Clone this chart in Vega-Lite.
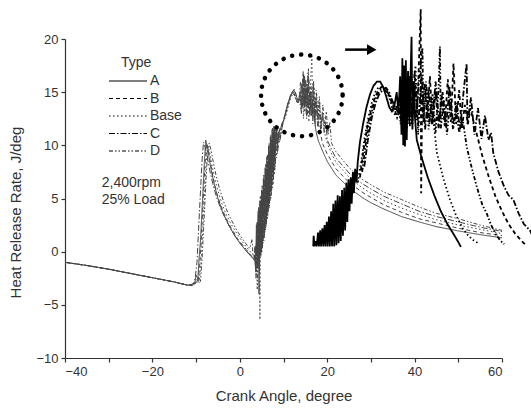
{
  "$schema": "https://vega.github.io/schema/vega-lite/v6.json",
  "autosize": {"type": "none"},
  "width": 437,
  "height": 319,
  "padding": {"left": 65, "top": 39, "right": 29, "bottom": 55},
  "background": "white",
  "config": {
    "view": {"stroke": null},
    "font": "Liberation Sans",
    "axis": {
      "domainColor": "#333", "tickColor": "#333", "labelColor": "#333", "titleColor": "#333",
      "labelFont": "Liberation Sans", "titleFont": "Liberation Sans",
      "labelFontSize": 13, "titleFontSize": 15, "titleFontWeight": "normal",
      "tickSize": 4, "grid": false, "domainWidth": 1.2, "tickWidth": 1.2
    },
    "legend": {"labelFont": "Liberation Sans", "titleFont": "Liberation Sans"}
  },
  "datasets": {
    "main": [
      {"Type":"A","x":-40,"y":-1.0},{"Type":"A","x":-35,"y":-1.3},{"Type":"A","x":-30,"y":-1.65},{"Type":"A","x":-25,"y":-2.05},{"Type":"A","x":-20,"y":-2.45},{"Type":"A","x":-15,"y":-2.85},{"Type":"A","x":-12,"y":-3.15},
      {"Type":"A","x":-11,"y":-3.1},{"Type":"A","x":-10.3,"y":-2.9},{"Type":"A","x":-10,"y":-2.2},{"Type":"A","x":-9.6,"y":-2.6},{"Type":"A","x":-9.3,"y":-0.5},{"Type":"A","x":-9,"y":1.0},{"Type":"A","x":-8.7,"y":3.5},{"Type":"A","x":-8.4,"y":6.0},{"Type":"A","x":-8.1,"y":8.5},{"Type":"A","x":-7.8,"y":10.5},{"Type":"A","x":-7.5,"y":10.0},{"Type":"A","x":-7.1,"y":9.0},{"Type":"A","x":-6.6,"y":7.8},{"Type":"A","x":-6,"y":6.6},{"Type":"A","x":-5,"y":5.0},{"Type":"A","x":-4,"y":3.8},{"Type":"A","x":-3,"y":2.9},{"Type":"A","x":-2,"y":2.1},{"Type":"A","x":-1,"y":1.4},{"Type":"A","x":0,"y":0.8},{"Type":"A","x":1,"y":0.3},{"Type":"A","x":2,"y":-0.2},{"Type":"A","x":3,"y":-0.6},{"Type":"A","x":3.4,"y":-0.8},
      {"Type":"A","x":3.6,"y":-1.5},{"Type":"A","x":3.8,"y":2.5},{"Type":"A","x":4.0,"y":-1.5},{"Type":"A","x":4.2,"y":3.8},{"Type":"A","x":4.4,"y":-4.0},{"Type":"A","x":4.6,"y":4.8},{"Type":"A","x":4.8,"y":-0.3},{"Type":"A","x":5.0,"y":5.8},{"Type":"A","x":5.2,"y":0.6},{"Type":"A","x":5.4,"y":6.9},{"Type":"A","x":5.6,"y":1.6},{"Type":"A","x":5.8,"y":7.9},{"Type":"A","x":6.0,"y":2.6},{"Type":"A","x":6.2,"y":8.9},{"Type":"A","x":6.4,"y":3.7},{"Type":"A","x":6.6,"y":9.9},{"Type":"A","x":6.8,"y":4.7},{"Type":"A","x":7.0,"y":10.8},{"Type":"A","x":7.2,"y":5.7},{"Type":"A","x":7.4,"y":11.5},{"Type":"A","x":7.6,"y":7.0},{"Type":"A","x":7.8,"y":11.8},{"Type":"A","x":8.0,"y":8.5},{"Type":"A","x":8.3,"y":11.5},{"Type":"A","x":8.6,"y":10.0},{"Type":"A","x":9.0,"y":11.3},{"Type":"A","x":9.5,"y":11.8},{"Type":"A","x":10,"y":12.3},{"Type":"A","x":10.5,"y":13.0},{"Type":"A","x":11,"y":13.8},{"Type":"A","x":11.5,"y":14.5},{"Type":"A","x":12,"y":15.0},{"Type":"A","x":12.4,"y":15.2},{"Type":"A","x":12.8,"y":14.8},{"Type":"A","x":13.3,"y":14.2},{"Type":"A","x":13.8,"y":14.4},{"Type":"A","x":14.2,"y":15.8},{"Type":"A","x":14.5,"y":13.8},{"Type":"A","x":14.8,"y":16.5},{"Type":"A","x":15.1,"y":14.0},{"Type":"A","x":15.4,"y":15.6},{"Type":"A","x":15.7,"y":13.5},{"Type":"A","x":16,"y":15.0},{"Type":"A","x":16.3,"y":12.8},{"Type":"A","x":16.6,"y":14.0},{"Type":"A","x":17,"y":12.5},{"Type":"A","x":17.5,"y":11.2},{"Type":"A","x":18,"y":10.4},{"Type":"A","x":19,"y":9.4},{"Type":"A","x":20,"y":8.5},{"Type":"A","x":22,"y":7.2},{"Type":"A","x":25,"y":6.0},{"Type":"A","x":28,"y":5.1},{"Type":"A","x":30,"y":4.6},{"Type":"A","x":33,"y":4.0},{"Type":"A","x":37,"y":3.3},{"Type":"A","x":41,"y":2.8},{"Type":"A","x":45,"y":2.35},{"Type":"A","x":50,"y":1.95},{"Type":"A","x":55,"y":1.6},{"Type":"A","x":60,"y":1.3},

      {"Type":"B","x":-40,"y":-1.0},{"Type":"B","x":-35,"y":-1.3},{"Type":"B","x":-30,"y":-1.65},{"Type":"B","x":-25,"y":-2.05},{"Type":"B","x":-20,"y":-2.45},{"Type":"B","x":-15,"y":-2.85},{"Type":"B","x":-12,"y":-3.15},
      {"Type":"B","x":-10.8,"y":-3.2},{"Type":"B","x":-10,"y":-2.8},{"Type":"B","x":-9.6,"y":-3.0},{"Type":"B","x":-9.2,"y":-1.5},{"Type":"B","x":-8.9,"y":0.5},{"Type":"B","x":-8.6,"y":3.0},{"Type":"B","x":-8.3,"y":5.5},{"Type":"B","x":-8.0,"y":8.0},{"Type":"B","x":-7.6,"y":10.2},{"Type":"B","x":-7.2,"y":9.6},{"Type":"B","x":-6.8,"y":8.6},{"Type":"B","x":-6.2,"y":7.2},{"Type":"B","x":-5.5,"y":5.8},{"Type":"B","x":-4.5,"y":4.5},{"Type":"B","x":-3.5,"y":3.5},{"Type":"B","x":-2.5,"y":2.6},{"Type":"B","x":-1.5,"y":1.9},{"Type":"B","x":-0.5,"y":1.2},{"Type":"B","x":0.5,"y":0.7},{"Type":"B","x":1.5,"y":0.2},{"Type":"B","x":2.5,"y":-0.3},{"Type":"B","x":3.2,"y":-0.7},
      {"Type":"B","x":3.5,"y":0.5},{"Type":"B","x":3.7,"y":-2.0},{"Type":"B","x":3.9,"y":2.8},{"Type":"B","x":4.1,"y":-1.0},{"Type":"B","x":4.3,"y":4.2},{"Type":"B","x":4.5,"y":-0.5},{"Type":"B","x":4.7,"y":5.2},{"Type":"B","x":4.9,"y":0.2},{"Type":"B","x":5.1,"y":6.2},{"Type":"B","x":5.3,"y":1.1},{"Type":"B","x":5.5,"y":7.2},{"Type":"B","x":5.7,"y":2.1},{"Type":"B","x":5.9,"y":8.2},{"Type":"B","x":6.1,"y":3.2},{"Type":"B","x":6.3,"y":9.2},{"Type":"B","x":6.5,"y":4.2},{"Type":"B","x":6.7,"y":10.2},{"Type":"B","x":6.9,"y":5.2},{"Type":"B","x":7.1,"y":11.0},{"Type":"B","x":7.3,"y":6.3},{"Type":"B","x":7.5,"y":11.6},{"Type":"B","x":7.7,"y":7.5},{"Type":"B","x":7.9,"y":11.8},{"Type":"B","x":8.2,"y":9.0},{"Type":"B","x":8.5,"y":11.6},{"Type":"B","x":8.8,"y":10.5},{"Type":"B","x":9.2,"y":11.6},{"Type":"B","x":9.6,"y":12.0},{"Type":"B","x":10,"y":12.4},{"Type":"B","x":10.5,"y":13.1},{"Type":"B","x":11,"y":13.9},{"Type":"B","x":11.5,"y":14.6},{"Type":"B","x":12,"y":15.0},{"Type":"B","x":12.5,"y":15.3},{"Type":"B","x":13,"y":14.6},{"Type":"B","x":13.5,"y":14.0},{"Type":"B","x":14,"y":14.8},{"Type":"B","x":14.3,"y":13.5},{"Type":"B","x":14.6,"y":16.8},{"Type":"B","x":14.9,"y":13.2},{"Type":"B","x":15.2,"y":15.8},{"Type":"B","x":15.5,"y":12.8},{"Type":"B","x":15.8,"y":16.2},{"Type":"B","x":16.1,"y":13.5},{"Type":"B","x":16.4,"y":15.0},{"Type":"B","x":16.7,"y":12.5},{"Type":"B","x":17.0,"y":14.5},{"Type":"B","x":17.3,"y":12.8},{"Type":"B","x":17.6,"y":13.8},{"Type":"B","x":18.0,"y":12.0},{"Type":"B","x":18.4,"y":11.2},{"Type":"B","x":19,"y":10.1},{"Type":"B","x":20,"y":9.2},{"Type":"B","x":22,"y":7.8},{"Type":"B","x":25,"y":6.5},{"Type":"B","x":28,"y":5.6},{"Type":"B","x":30,"y":5.1},{"Type":"B","x":33,"y":4.4},{"Type":"B","x":37,"y":3.7},{"Type":"B","x":41,"y":3.1},{"Type":"B","x":45,"y":2.7},{"Type":"B","x":50,"y":2.2},{"Type":"B","x":55,"y":1.8},{"Type":"B","x":60,"y":1.5},

      {"Type":"Base","x":-40,"y":-1.0},{"Type":"Base","x":-35,"y":-1.3},{"Type":"Base","x":-30,"y":-1.65},{"Type":"Base","x":-25,"y":-2.05},{"Type":"Base","x":-20,"y":-2.45},{"Type":"Base","x":-15,"y":-2.85},{"Type":"Base","x":-12,"y":-3.15},
      {"Type":"Base","x":-10.5,"y":-3.1},{"Type":"Base","x":-9.8,"y":-2.6},{"Type":"Base","x":-9.3,"y":-2.9},{"Type":"Base","x":-8.9,"y":-1.2},{"Type":"Base","x":-8.6,"y":1.0},{"Type":"Base","x":-8.3,"y":3.5},{"Type":"Base","x":-8.0,"y":6.0},{"Type":"Base","x":-7.7,"y":8.3},{"Type":"Base","x":-7.3,"y":9.9},{"Type":"Base","x":-6.9,"y":9.4},{"Type":"Base","x":-6.4,"y":8.2},{"Type":"Base","x":-5.8,"y":7.0},{"Type":"Base","x":-5.0,"y":5.7},{"Type":"Base","x":-4.0,"y":4.4},{"Type":"Base","x":-3.0,"y":3.4},{"Type":"Base","x":-2.0,"y":2.6},{"Type":"Base","x":-1.0,"y":1.9},{"Type":"Base","x":0,"y":1.3},{"Type":"Base","x":1,"y":0.7},{"Type":"Base","x":2,"y":0.2},{"Type":"Base","x":3,"y":-0.3},{"Type":"Base","x":3.5,"y":-0.6},
      {"Type":"Base","x":3.7,"y":0.5},{"Type":"Base","x":3.9,"y":-2.0},{"Type":"Base","x":4.1,"y":2.8},{"Type":"Base","x":4.3,"y":-1.2},{"Type":"Base","x":4.5,"y":3.8},{"Type":"Base","x":4.6,"y":-6.4},{"Type":"Base","x":4.7,"y":0.5},{"Type":"Base","x":4.9,"y":4.8},{"Type":"Base","x":5.1,"y":0.0},{"Type":"Base","x":5.3,"y":5.8},{"Type":"Base","x":5.5,"y":1.0},{"Type":"Base","x":5.7,"y":6.8},{"Type":"Base","x":5.9,"y":2.0},{"Type":"Base","x":6.1,"y":7.8},{"Type":"Base","x":6.3,"y":3.0},{"Type":"Base","x":6.5,"y":8.8},{"Type":"Base","x":6.7,"y":4.0},{"Type":"Base","x":6.9,"y":9.8},{"Type":"Base","x":7.1,"y":5.0},{"Type":"Base","x":7.3,"y":10.6},{"Type":"Base","x":7.5,"y":6.0},{"Type":"Base","x":7.7,"y":11.2},{"Type":"Base","x":7.9,"y":7.2},{"Type":"Base","x":8.1,"y":11.5},{"Type":"Base","x":8.4,"y":8.8},{"Type":"Base","x":8.7,"y":11.3},{"Type":"Base","x":9.0,"y":10.2},{"Type":"Base","x":9.4,"y":11.6},{"Type":"Base","x":9.8,"y":12.1},{"Type":"Base","x":10.2,"y":12.4},{"Type":"Base","x":10.7,"y":13.0},{"Type":"Base","x":11.2,"y":13.8},{"Type":"Base","x":11.7,"y":14.5},{"Type":"Base","x":12.2,"y":14.9},{"Type":"Base","x":12.7,"y":14.5},{"Type":"Base","x":13.2,"y":13.9},{"Type":"Base","x":13.7,"y":14.3},{"Type":"Base","x":14.0,"y":13.2},{"Type":"Base","x":14.3,"y":15.5},{"Type":"Base","x":14.6,"y":12.5},{"Type":"Base","x":14.9,"y":16.0},{"Type":"Base","x":15.2,"y":13.0},{"Type":"Base","x":15.5,"y":15.5},{"Type":"Base","x":15.8,"y":12.2},{"Type":"Base","x":16.2,"y":16.0},{"Type":"Base","x":16.5,"y":18.4},{"Type":"Base","x":16.7,"y":12.0},{"Type":"Base","x":17.0,"y":15.5},{"Type":"Base","x":17.3,"y":11.8},{"Type":"Base","x":17.6,"y":14.8},{"Type":"Base","x":18.0,"y":12.0},{"Type":"Base","x":18.3,"y":14.0},{"Type":"Base","x":18.6,"y":11.5},{"Type":"Base","x":19.0,"y":13.0},{"Type":"Base","x":19.5,"y":11.0},{"Type":"Base","x":20,"y":10.2},{"Type":"Base","x":21,"y":9.2},{"Type":"Base","x":22,"y":8.4},{"Type":"Base","x":25,"y":7.0},{"Type":"Base","x":28,"y":6.0},{"Type":"Base","x":30,"y":5.5},{"Type":"Base","x":33,"y":4.8},{"Type":"Base","x":37,"y":4.1},{"Type":"Base","x":41,"y":3.5},{"Type":"Base","x":45,"y":3.0},{"Type":"Base","x":50,"y":2.5},{"Type":"Base","x":55,"y":2.1},{"Type":"Base","x":60,"y":1.7},

      {"Type":"C","x":-40,"y":-1.0},{"Type":"C","x":-35,"y":-1.3},{"Type":"C","x":-30,"y":-1.65},{"Type":"C","x":-25,"y":-2.05},{"Type":"C","x":-20,"y":-2.45},{"Type":"C","x":-15,"y":-2.85},{"Type":"C","x":-12,"y":-3.15},
      {"Type":"C","x":-11.2,"y":-3.1},{"Type":"C","x":-10.6,"y":-3.0},{"Type":"C","x":-10.2,"y":-2.5},{"Type":"C","x":-9.8,"y":-1.0},{"Type":"C","x":-9.5,"y":1.5},{"Type":"C","x":-9.2,"y":4.0},{"Type":"C","x":-8.9,"y":6.5},{"Type":"C","x":-8.6,"y":8.8},{"Type":"C","x":-8.3,"y":10.3},{"Type":"C","x":-7.9,"y":9.8},{"Type":"C","x":-7.4,"y":8.8},{"Type":"C","x":-6.9,"y":7.7},{"Type":"C","x":-6.2,"y":6.4},{"Type":"C","x":-5.3,"y":5.1},{"Type":"C","x":-4.3,"y":4.0},{"Type":"C","x":-3.3,"y":3.1},{"Type":"C","x":-2.3,"y":2.3},{"Type":"C","x":-1.3,"y":1.6},{"Type":"C","x":-0.3,"y":1.0},{"Type":"C","x":0.7,"y":0.5},{"Type":"C","x":1.7,"y":0.0},{"Type":"C","x":2.7,"y":-0.5},{"Type":"C","x":3.3,"y":-0.8},
      {"Type":"C","x":3.5,"y":0.5},{"Type":"C","x":3.7,"y":-2.5},{"Type":"C","x":3.9,"y":2.0},{"Type":"C","x":4.1,"y":-1.5},{"Type":"C","x":4.3,"y":3.5},{"Type":"C","x":4.5,"y":-2.0},{"Type":"C","x":4.7,"y":4.5},{"Type":"C","x":4.9,"y":0.0},{"Type":"C","x":5.1,"y":5.5},{"Type":"C","x":5.3,"y":0.8},{"Type":"C","x":5.5,"y":6.5},{"Type":"C","x":5.7,"y":1.8},{"Type":"C","x":5.9,"y":7.5},{"Type":"C","x":6.1,"y":2.8},{"Type":"C","x":6.3,"y":8.5},{"Type":"C","x":6.5,"y":3.8},{"Type":"C","x":6.7,"y":9.5},{"Type":"C","x":6.9,"y":4.8},{"Type":"C","x":7.1,"y":10.3},{"Type":"C","x":7.3,"y":5.8},{"Type":"C","x":7.5,"y":11.0},{"Type":"C","x":7.7,"y":6.8},{"Type":"C","x":7.9,"y":11.5},{"Type":"C","x":8.1,"y":8.0},{"Type":"C","x":8.4,"y":11.6},{"Type":"C","x":8.7,"y":9.5},{"Type":"C","x":9.0,"y":11.4},{"Type":"C","x":9.3,"y":10.8},{"Type":"C","x":9.8,"y":12.0},{"Type":"C","x":10.3,"y":12.8},{"Type":"C","x":10.8,"y":13.7},{"Type":"C","x":11.3,"y":14.3},{"Type":"C","x":11.8,"y":14.8},{"Type":"C","x":12.3,"y":15.0},{"Type":"C","x":12.8,"y":14.4},{"Type":"C","x":13.3,"y":14.0},{"Type":"C","x":13.8,"y":15.0},{"Type":"C","x":14.1,"y":13.0},{"Type":"C","x":14.4,"y":16.2},{"Type":"C","x":14.7,"y":13.5},{"Type":"C","x":15.0,"y":15.2},{"Type":"C","x":15.3,"y":12.5},{"Type":"C","x":15.6,"y":16.8},{"Type":"C","x":15.9,"y":13.0},{"Type":"C","x":16.2,"y":15.0},{"Type":"C","x":16.5,"y":12.8},{"Type":"C","x":16.8,"y":15.8},{"Type":"C","x":17.1,"y":12.5},{"Type":"C","x":17.4,"y":14.5},{"Type":"C","x":17.8,"y":11.8},{"Type":"C","x":18.1,"y":13.8},{"Type":"C","x":18.5,"y":11.5},{"Type":"C","x":18.9,"y":13.0},{"Type":"C","x":19.3,"y":11.2},{"Type":"C","x":19.7,"y":12.2},{"Type":"C","x":20,"y":10.5},{"Type":"C","x":21,"y":9.6},{"Type":"C","x":22,"y":8.8},{"Type":"C","x":25,"y":7.4},{"Type":"C","x":28,"y":6.4},{"Type":"C","x":30,"y":5.9},{"Type":"C","x":33,"y":5.2},{"Type":"C","x":37,"y":4.5},{"Type":"C","x":41,"y":3.8},{"Type":"C","x":45,"y":3.3},{"Type":"C","x":50,"y":2.8},{"Type":"C","x":55,"y":2.3},{"Type":"C","x":60,"y":1.9},

      {"Type":"D","x":-40,"y":-1.0},{"Type":"D","x":-35,"y":-1.3},{"Type":"D","x":-30,"y":-1.65},{"Type":"D","x":-25,"y":-2.05},{"Type":"D","x":-20,"y":-2.45},{"Type":"D","x":-15,"y":-2.85},{"Type":"D","x":-12,"y":-3.15},
      {"Type":"D","x":-10.6,"y":-3.1},{"Type":"D","x":-9.8,"y":-2.9},{"Type":"D","x":-9.4,"y":-2.4},{"Type":"D","x":-9.0,"y":-2.8},{"Type":"D","x":-8.6,"y":-0.5},{"Type":"D","x":-8.3,"y":2.0},{"Type":"D","x":-8.0,"y":4.5},{"Type":"D","x":-7.7,"y":7.0},{"Type":"D","x":-7.4,"y":9.0},{"Type":"D","x":-7.0,"y":10.2},{"Type":"D","x":-6.6,"y":9.6},{"Type":"D","x":-6.1,"y":8.5},{"Type":"D","x":-5.5,"y":7.3},{"Type":"D","x":-4.7,"y":6.0},{"Type":"D","x":-3.7,"y":4.7},{"Type":"D","x":-2.7,"y":3.6},{"Type":"D","x":-1.7,"y":2.8},{"Type":"D","x":-0.7,"y":2.0},{"Type":"D","x":0.3,"y":1.4},{"Type":"D","x":1.3,"y":0.8},{"Type":"D","x":2.3,"y":0.3},{"Type":"D","x":2.8,"y":1.2},{"Type":"D","x":3.0,"y":-0.2},{"Type":"D","x":3.4,"y":-0.5},
      {"Type":"D","x":3.6,"y":-1.0},{"Type":"D","x":3.8,"y":0.8},{"Type":"D","x":4.0,"y":-3.5},{"Type":"D","x":4.2,"y":3.0},{"Type":"D","x":4.4,"y":-1.5},{"Type":"D","x":4.6,"y":4.2},{"Type":"D","x":4.8,"y":-0.5},{"Type":"D","x":5.0,"y":5.2},{"Type":"D","x":5.2,"y":0.4},{"Type":"D","x":5.4,"y":6.2},{"Type":"D","x":5.6,"y":1.3},{"Type":"D","x":5.8,"y":7.2},{"Type":"D","x":6.0,"y":2.3},{"Type":"D","x":6.2,"y":8.2},{"Type":"D","x":6.4,"y":3.3},{"Type":"D","x":6.6,"y":9.2},{"Type":"D","x":6.8,"y":4.3},{"Type":"D","x":7.0,"y":10.0},{"Type":"D","x":7.2,"y":5.3},{"Type":"D","x":7.4,"y":10.8},{"Type":"D","x":7.6,"y":6.4},{"Type":"D","x":7.8,"y":11.4},{"Type":"D","x":8.0,"y":7.6},{"Type":"D","x":8.3,"y":11.6},{"Type":"D","x":8.6,"y":9.2},{"Type":"D","x":8.9,"y":11.2},{"Type":"D","x":9.2,"y":10.4},{"Type":"D","x":9.6,"y":11.6},{"Type":"D","x":10.1,"y":12.4},{"Type":"D","x":10.6,"y":13.3},{"Type":"D","x":11.1,"y":14.0},{"Type":"D","x":11.6,"y":14.7},{"Type":"D","x":12.1,"y":15.1},{"Type":"D","x":12.6,"y":14.7},{"Type":"D","x":13.1,"y":14.1},{"Type":"D","x":13.6,"y":14.5},{"Type":"D","x":13.9,"y":16.0},{"Type":"D","x":14.2,"y":13.4},{"Type":"D","x":14.5,"y":17.0},{"Type":"D","x":14.8,"y":13.6},{"Type":"D","x":15.1,"y":16.2},{"Type":"D","x":15.4,"y":13.8},{"Type":"D","x":15.7,"y":17.2},{"Type":"D","x":16.0,"y":12.8},{"Type":"D","x":16.3,"y":15.6},{"Type":"D","x":16.6,"y":13.2},{"Type":"D","x":16.9,"y":16.0},{"Type":"D","x":17.2,"y":12.2},{"Type":"D","x":17.5,"y":15.2},{"Type":"D","x":17.8,"y":12.6},{"Type":"D","x":18.2,"y":14.6},{"Type":"D","x":18.6,"y":11.6},{"Type":"D","x":19.0,"y":13.8},{"Type":"D","x":19.4,"y":11.8},{"Type":"D","x":19.8,"y":13.2},{"Type":"D","x":20.2,"y":11.0},{"Type":"D","x":20.6,"y":12.2},{"Type":"D","x":21.0,"y":10.2},{"Type":"D","x":22,"y":9.4},{"Type":"D","x":25,"y":7.9},{"Type":"D","x":28,"y":6.8},{"Type":"D","x":30,"y":6.3},{"Type":"D","x":33,"y":5.6},{"Type":"D","x":37,"y":4.9},{"Type":"D","x":41,"y":4.2},{"Type":"D","x":45,"y":3.6},{"Type":"D","x":50,"y":3.1},{"Type":"D","x":55,"y":2.5},{"Type":"D","x":60,"y":2.0}
    ],
    "inset": [
      {"Type":"A","x":16.8,"y":0.5},{"Type":"A","x":16.9,"y":1.5},{"Type":"A","x":17.1,"y":0.5},{"Type":"A","x":17.4,"y":1.0},{"Type":"A","x":17.6,"y":0.5},{"Type":"A","x":17.9,"y":1.8},{"Type":"A","x":18.1,"y":0.5},{"Type":"A","x":18.4,"y":2.0},{"Type":"A","x":18.6,"y":0.5},{"Type":"A","x":18.9,"y":2.2},{"Type":"A","x":19.1,"y":0.5},{"Type":"A","x":19.4,"y":2.5},{"Type":"A","x":19.6,"y":0.5},{"Type":"A","x":19.9,"y":2.8},{"Type":"A","x":20.1,"y":0.5},{"Type":"A","x":20.4,"y":3.3},{"Type":"A","x":20.6,"y":0.5},{"Type":"A","x":20.9,"y":3.8},{"Type":"A","x":21.1,"y":0.5},{"Type":"A","x":21.4,"y":4.5},{"Type":"A","x":21.6,"y":0.5},{"Type":"A","x":21.9,"y":4.8},{"Type":"A","x":22.1,"y":0.6},{"Type":"A","x":22.4,"y":5.3},{"Type":"A","x":22.6,"y":0.8},{"Type":"A","x":22.9,"y":5.2},{"Type":"A","x":23.1,"y":1.0},{"Type":"A","x":23.4,"y":5.8},{"Type":"A","x":23.6,"y":1.5},{"Type":"A","x":23.9,"y":6.0},{"Type":"A","x":24.1,"y":2.0},{"Type":"A","x":24.4,"y":6.5},{"Type":"A","x":24.6,"y":2.8},{"Type":"A","x":24.9,"y":6.8},{"Type":"A","x":25.1,"y":3.8},{"Type":"A","x":25.4,"y":7.0},{"Type":"A","x":25.6,"y":4.5},{"Type":"A","x":25.9,"y":7.5},{"Type":"A","x":26.1,"y":5.5},{"Type":"A","x":26.4,"y":7.8},{"Type":"A","x":26.7,"y":6.5},{"Type":"A","x":27.0,"y":8.5},{"Type":"A","x":27.5,"y":10.3},{"Type":"A","x":28.2,"y":12.0},{"Type":"A","x":29.0,"y":13.6},{"Type":"A","x":29.8,"y":14.8},{"Type":"A","x":30.6,"y":15.6},{"Type":"A","x":31.4,"y":16.0},{"Type":"A","x":32.1,"y":16.0},{"Type":"A","x":32.8,"y":15.5},{"Type":"A","x":33.5,"y":14.6},{"Type":"A","x":34.2,"y":13.6},{"Type":"A","x":34.8,"y":13.2},{"Type":"A","x":35.4,"y":13.8},{"Type":"A","x":35.9,"y":15.0},{"Type":"A","x":36.3,"y":13.0},{"Type":"A","x":36.7,"y":16.5},{"Type":"A","x":37.0,"y":11.0},{"Type":"A","x":37.2,"y":18.2},{"Type":"A","x":37.4,"y":10.0},{"Type":"A","x":37.6,"y":17.5},{"Type":"A","x":37.8,"y":9.9},{"Type":"A","x":38.0,"y":18.0},{"Type":"A","x":38.2,"y":10.5},{"Type":"A","x":38.5,"y":17.0},{"Type":"A","x":38.8,"y":12.0},{"Type":"A","x":39.3,"y":20.2},{"Type":"A","x":39.5,"y":11.5},{"Type":"A","x":39.8,"y":16.0},{"Type":"A","x":40.1,"y":12.5},{"Type":"A","x":40.5,"y":10.5},{"Type":"A","x":41.5,"y":9.0},{"Type":"A","x":43,"y":7.0},{"Type":"A","x":44.5,"y":5.3},{"Type":"A","x":46,"y":3.8},{"Type":"A","x":47.5,"y":2.6},{"Type":"A","x":49,"y":1.6},{"Type":"A","x":50,"y":0.9},{"Type":"A","x":50.6,"y":0.45},

      {"Type":"Base","x":27.0,"y":6.5},{"Type":"Base","x":27.8,"y":8.5},{"Type":"Base","x":28.6,"y":10.8},{"Type":"Base","x":29.4,"y":12.6},{"Type":"Base","x":30.2,"y":14.0},{"Type":"Base","x":31.0,"y":15.0},{"Type":"Base","x":31.8,"y":15.5},{"Type":"Base","x":32.6,"y":15.4},{"Type":"Base","x":33.6,"y":15.2},{"Type":"Base","x":34.4,"y":14.2},{"Type":"Base","x":35.2,"y":13.0},{"Type":"Base","x":35.9,"y":12.8},{"Type":"Base","x":36.4,"y":14.5},{"Type":"Base","x":36.8,"y":12.0},{"Type":"Base","x":37.5,"y":16.0},{"Type":"Base","x":38.2,"y":11.5},{"Type":"Base","x":38.8,"y":15.0},{"Type":"Base","x":39.5,"y":12.0},{"Type":"Base","x":40.2,"y":17.5},{"Type":"Base","x":40.8,"y":11.0},{"Type":"Base","x":41.4,"y":15.5},{"Type":"Base","x":42.0,"y":12.5},{"Type":"Base","x":42.6,"y":16.0},{"Type":"Base","x":43.2,"y":11.5},{"Type":"Base","x":43.8,"y":14.5},{"Type":"Base","x":44.4,"y":12.0},{"Type":"Base","x":45.1,"y":9.3},{"Type":"Base","x":46.5,"y":7.0},{"Type":"Base","x":48,"y":5.0},{"Type":"Base","x":49.5,"y":3.4},{"Type":"Base","x":51,"y":2.2},{"Type":"Base","x":52.3,"y":1.5},{"Type":"Base","x":53.4,"y":1.1},{"Type":"Base","x":54.5,"y":0.8},

      {"Type":"B","x":27.5,"y":7.0},{"Type":"B","x":28.3,"y":9.5},{"Type":"B","x":29.2,"y":11.8},{"Type":"B","x":30.1,"y":13.4},{"Type":"B","x":31.0,"y":14.6},{"Type":"B","x":31.9,"y":15.3},{"Type":"B","x":32.8,"y":15.6},{"Type":"B","x":33.7,"y":15.2},{"Type":"B","x":34.6,"y":14.2},{"Type":"B","x":35.5,"y":13.2},{"Type":"B","x":36.2,"y":14.0},{"Type":"B","x":36.8,"y":12.5},{"Type":"B","x":37.5,"y":14.8},{"Type":"B","x":38.2,"y":12.0},{"Type":"B","x":38.8,"y":16.5},{"Type":"B","x":39.4,"y":12.8},{"Type":"B","x":40.0,"y":17.0},{"Type":"B","x":40.6,"y":13.0},{"Type":"B","x":41.4,"y":22.8},{"Type":"B","x":41.5,"y":5.5},{"Type":"B","x":41.7,"y":13.5},{"Type":"B","x":42.3,"y":15.8},{"Type":"B","x":42.9,"y":12.5},{"Type":"B","x":43.5,"y":16.5},{"Type":"B","x":44.1,"y":12.0},{"Type":"B","x":44.8,"y":15.0},{"Type":"B","x":45.5,"y":11.5},{"Type":"B","x":46.2,"y":14.8},{"Type":"B","x":46.9,"y":11.8},{"Type":"B","x":47.6,"y":16.2},{"Type":"B","x":48.3,"y":12.2},{"Type":"B","x":48.9,"y":17.7},{"Type":"B","x":49.5,"y":12.0},{"Type":"B","x":50.2,"y":15.2},{"Type":"B","x":50.8,"y":11.5},{"Type":"B","x":51.5,"y":13.8},{"Type":"B","x":52.2,"y":12.0},{"Type":"B","x":52.8,"y":13.5},{"Type":"B","x":53.5,"y":12.2},{"Type":"B","x":54.2,"y":11.1},{"Type":"B","x":55.5,"y":9.0},{"Type":"B","x":57,"y":7.0},{"Type":"B","x":58.5,"y":5.2},{"Type":"B","x":60,"y":3.8},{"Type":"B","x":61.5,"y":2.6},{"Type":"B","x":63,"y":1.7},{"Type":"B","x":64.5,"y":1.0},{"Type":"B","x":65.5,"y":0.6},

      {"Type":"D","x":28.0,"y":7.5},{"Type":"D","x":28.8,"y":10.0},{"Type":"D","x":29.7,"y":12.3},{"Type":"D","x":30.6,"y":13.8},{"Type":"D","x":31.5,"y":14.8},{"Type":"D","x":32.4,"y":15.3},{"Type":"D","x":33.3,"y":15.5},{"Type":"D","x":34.2,"y":15.0},{"Type":"D","x":35.1,"y":13.8},{"Type":"D","x":36.0,"y":12.6},{"Type":"D","x":36.8,"y":13.5},{"Type":"D","x":37.5,"y":12.2},{"Type":"D","x":38.2,"y":14.2},{"Type":"D","x":38.9,"y":11.8},{"Type":"D","x":39.6,"y":15.0},{"Type":"D","x":40.3,"y":12.4},{"Type":"D","x":41.0,"y":16.0},{"Type":"D","x":41.8,"y":19.2},{"Type":"D","x":42.0,"y":12.2},{"Type":"D","x":42.7,"y":15.6},{"Type":"D","x":43.4,"y":12.0},{"Type":"D","x":44.1,"y":14.8},{"Type":"D","x":44.8,"y":11.2},{"Type":"D","x":45.5,"y":15.5},{"Type":"D","x":45.8,"y":19.3},{"Type":"D","x":46.0,"y":11.6},{"Type":"D","x":46.7,"y":14.2},{"Type":"D","x":47.4,"y":11.0},{"Type":"D","x":48.1,"y":14.0},{"Type":"D","x":48.8,"y":11.5},{"Type":"D","x":49.5,"y":13.2},{"Type":"D","x":50.2,"y":11.2},{"Type":"D","x":51.0,"y":12.5},{"Type":"D","x":51.9,"y":9.9},{"Type":"D","x":53,"y":8.0},{"Type":"D","x":54.3,"y":6.0},{"Type":"D","x":55.5,"y":4.4},{"Type":"D","x":56.5,"y":3.6},{"Type":"D","x":57.5,"y":2.5},{"Type":"D","x":58.5,"y":1.7},{"Type":"D","x":59.5,"y":1.1},{"Type":"D","x":60.5,"y":0.7},

      {"Type":"C","x":28.5,"y":8.0},{"Type":"C","x":29.3,"y":10.5},{"Type":"C","x":30.2,"y":12.6},{"Type":"C","x":31.1,"y":14.0},{"Type":"C","x":32.0,"y":14.9},{"Type":"C","x":32.9,"y":15.2},{"Type":"C","x":33.8,"y":15.0},{"Type":"C","x":34.7,"y":14.4},{"Type":"C","x":35.6,"y":13.5},{"Type":"C","x":36.4,"y":13.0},{"Type":"C","x":37.2,"y":14.0},{"Type":"C","x":38.0,"y":12.4},{"Type":"C","x":38.7,"y":15.0},{"Type":"C","x":39.4,"y":12.0},{"Type":"C","x":40.1,"y":15.6},{"Type":"C","x":40.8,"y":11.8},{"Type":"C","x":41.6,"y":16.5},{"Type":"C","x":42.4,"y":11.5},{"Type":"C","x":43.2,"y":15.2},{"Type":"C","x":44.0,"y":12.0},{"Type":"C","x":44.8,"y":16.0},{"Type":"C","x":45.6,"y":12.2},{"Type":"C","x":46.4,"y":15.0},{"Type":"C","x":47.2,"y":11.8},{"Type":"C","x":48.0,"y":15.5},{"Type":"C","x":48.8,"y":12.0},{"Type":"C","x":49.6,"y":14.0},{"Type":"C","x":50.4,"y":11.5},{"Type":"C","x":51.2,"y":15.0},{"Type":"C","x":51.9,"y":17.7},{"Type":"C","x":52.1,"y":12.0},{"Type":"C","x":52.9,"y":14.5},{"Type":"C","x":53.7,"y":11.0},{"Type":"C","x":54.5,"y":13.5},{"Type":"C","x":55.3,"y":10.6},{"Type":"C","x":56.1,"y":12.8},{"Type":"C","x":56.9,"y":10.5},{"Type":"C","x":57.5,"y":11.2},{"Type":"C","x":58.0,"y":9.3},{"Type":"C","x":59.2,"y":7.5},{"Type":"C","x":60.4,"y":6.2},{"Type":"C","x":61.5,"y":5.3},{"Type":"C","x":62.6,"y":4.9},{"Type":"C","x":63.8,"y":3.6},{"Type":"C","x":65.0,"y":2.6},{"Type":"C","x":66.4,"y":2.0},{"Type":"C","x":67.5,"y":1.0},{"Type":"C","x":68.2,"y":0.45}
    ],
    "notes": [
      {"label": "2,400rpm", "x": -31.6, "y": 6.5},
      {"label": "25% Load", "x": -31.6, "y": 4.85}
    ],
    "circle": [{"x": 14.2, "y": 14.7}],
    "arrow": [{"x": 24.1, "x2": 30.2, "y": 19.0}]
  },
  "layer": [
    {
      "data": {"name": "main"},
      "mark": {"type": "line", "strokeWidth": 1, "color": "#444", "strokeCap": "butt"},
      "encoding": {
        "x": {
          "field": "x", "type": "quantitative",
          "scale": {"domain": [-40, 60], "nice": false, "zero": false},
          "axis": {
            "title": "Crank Angle, degree", "values": [-40,-30,-20,-10,0,10,20,30,40,50,60],
            "labelExpr": "datum.value % 20 == 0 ? datum.label : ''",
            "labelPadding": 3, "titlePadding": 10
          }
        },
        "y": {
          "field": "y", "type": "quantitative",
          "scale": {"domain": [-10, 20], "nice": false, "zero": false},
          "axis": {
            "title": "Heat Release Rate, J/deg", "values": [-10,-7.5,-5,-2.5,0,2.5,5,7.5,10,12.5,15,17.5,20],
            "labelExpr": "datum.value % 5 == 0 ? datum.label : ''",
            "labelPadding": 3, "titlePadding": 12, "titleY": 173
          }
        },
        "strokeDash": {
          "field": "Type", "type": "nominal",
          "scale": {
            "domain": ["A", "B", "Base", "C", "D"],
            "range": [[1, 0], [4, 3], [1.5, 2.5], [6, 2, 1.5, 2], [4, 2, 1.5, 2, 1.5, 2]]
          },
          "legend": {
            "orient": "none", "legendX": 56, "legendY": 17,
            "title": "Type", "titleFontSize": 14, "titleFontWeight": "normal", "titleColor": "#333",
            "titleAnchor": "start", "titlePadding": 4,
            "labelFontSize": 14, "labelColor": "#333", "labelOffset": 15,
            "symbolType": "M-3.8,0H3.8", "symbolSize": 100, "symbolStrokeWidth": 1.2,
            "symbolStrokeColor": "#444", "rowPadding": 3.5
          }
        }
      }
    },
    {
      "data": {"name": "inset"},
      "mark": {"type": "line", "strokeWidth": 1.8, "color": "#000", "strokeCap": "butt"},
      "encoding": {
        "x": {"field": "x", "type": "quantitative"},
        "y": {"field": "y", "type": "quantitative"},
        "strokeDash": {"field": "Type", "type": "nominal"}
      }
    },
    {
      "data": {"name": "circle"},
      "mark": {"type": "point", "shape": "circle", "size": 6650, "filled": false, "stroke": "#000", "strokeWidth": 4.5, "strokeDash": [0.1, 9], "strokeCap": "round", "opacity": 1},
      "encoding": {
        "x": {"field": "x", "type": "quantitative"},
        "y": {"field": "y", "type": "quantitative"}
      }
    },
    {
      "data": {"name": "arrow"},
      "mark": {"type": "rule", "strokeWidth": 2.5, "color": "#000"},
      "encoding": {
        "x": {"field": "x", "type": "quantitative"},
        "x2": {"field": "x2"},
        "y": {"field": "y", "type": "quantitative"}
      }
    },
    {
      "data": {"name": "arrow"},
      "mark": {"type": "point", "shape": "triangle-right", "size": 120, "filled": true, "color": "#000", "opacity": 1},
      "encoding": {
        "x": {"field": "x2", "type": "quantitative"},
        "y": {"field": "y", "type": "quantitative"}
      }
    },
    {
      "data": {"name": "notes"},
      "mark": {"type": "text", "align": "left", "baseline": "middle", "fontSize": 14, "color": "#333", "font": "Liberation Sans"},
      "encoding": {
        "x": {"field": "x", "type": "quantitative"},
        "y": {"field": "y", "type": "quantitative"},
        "text": {"field": "label"}
      }
    }
  ]
}
